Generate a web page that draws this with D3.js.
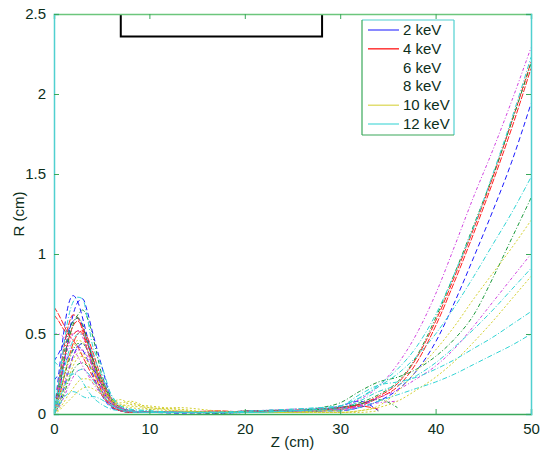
<!DOCTYPE html>
<html>
<head>
<meta charset="utf-8">
<script src="https://cdn.jsdelivr.net/npm/d3@7/dist/d3.min.js"></script>
<style>
  html, body { margin: 0; padding: 0; background: #fff; }
  svg { display: block; }
  text { font-family: "Liberation Sans", Arial, sans-serif; }
</style>
</head>
<body>
<svg id="chart" width="543" height="454"></svg>
<script>
// ---------- data ----------
const zGrid = [0, 0.5, 1, 1.5, 2, 2.5, 3, 3.5, 4, 5, 6, 7, 8, 10, 13, 17, 21, 25, 28, 30, 32, 34, 36, 38, 40, 42, 44, 46, 48, 50];
const energyLabels = ["2 keV", "4 keV", "6 keV", "8 keV", "10 keV", "12 keV"];
const xTicks = [0, 10, 20, 30, 40, 50];
const yTicks = [0, 0.5, 1, 1.5, 2, 2.5];
const apertureZ = [7, 28.1];
const apertureR = 2.36;
const N = null;

const r2keV = [
  [0.0,0.25,0.5,0.68,0.74,0.7,0.6,0.48,0.36,0.17,0.06,0.03,0.02,0.01, 0.01,0.01,0.015,0.02,0.02, 0.02,0.04,0.08,0.15,0.27,0.45,0.7,0.98,1.27,1.58,1.94],
  [0.0,0.12,0.3,0.48,0.62,0.7,0.72,0.64,0.52,0.3,0.1,0.04,0.02,0.01, 0.01,0.01,0.01,0.02,0.03, 0.05,0.08,0.02,N,N,N,N,N,N,N,N],
  [0.33,0.38,0.44,0.52,0.58,0.6,0.55,0.45,0.33,0.15,0.05,0.02,0.01,0.01, 0.01,0.005,0.01,0.01,0.02, 0.03,N,N,N,N,N,N,N,N,N,N],
  [0.21,0.25,0.3,0.36,0.4,0.42,0.4,0.34,0.26,0.12,0.04,0.02,0.01,0.01, 0.005,0.01,0.01,0.015,N, N,N,N,N,N,N,N,N,N,N,N],
  [0.0,0.06,0.15,0.26,0.36,0.42,0.44,0.4,0.33,0.18,0.07,0.03,0.02,0.01, 0.01,0.01,0.02,0.02,0.03, 0.04,0.06,0.1,N,N,N,N,N,N,N,N]
];
const r4keV = [
  [0.67,0.62,0.56,0.5,0.46,0.42,0.36,0.3,0.24,0.12,0.05,0.02,0.01,0.01, 0.01,0.01,0.01,0.02,0.025, 0.03,0.06,0.11,0.19,0.35,0.58,0.86,1.16,1.48,1.83,2.2],
  [0.0,0.2,0.4,0.55,0.62,0.6,0.52,0.4,0.3,0.14,0.05,0.02,0.01,0.01, 0.01,0.02,0.01,0.02,0.03, 0.03,0.05,0.1,0.17,0.32,0.55,0.83,1.13,1.45,1.79,2.16],
  [0.0,0.15,0.32,0.46,0.55,0.58,0.54,0.45,0.35,0.18,0.07,0.03,0.02,0.01, 0.01,0.01,0.02,0.02,0.03, 0.04,0.05,0.03,N,N,N,N,N,N,N,N],
  [0.62,0.58,0.53,0.5,0.5,0.52,0.5,0.44,0.36,0.2,0.08,0.03,0.02,0.01, 0.01,0.01,0.01,0.02,0.02, 0.03,N,N,N,N,N,N,N,N,N,N],
  [0.0,0.1,0.22,0.34,0.44,0.5,0.52,0.48,0.4,0.22,0.09,0.04,0.02,0.01, 0.01,0.01,0.02,0.025,0.03, 0.04,0.06,N,N,N,N,N,N,N,N,N]
];
const r6keV = [
  [0.0,0.18,0.36,0.5,0.58,0.6,0.56,0.46,0.36,0.2,0.1,0.04,0.02,0.01, 0.01,0.01,0.01,0.02,0.03, 0.04,0.07,0.12,0.2,0.36,0.6,0.88,1.18,1.49,1.83,2.19],
  [0.0,0.1,0.22,0.32,0.4,0.44,0.44,0.4,0.32,0.22,0.1,0.04,0.02,0.01, 0.01,0.01,0.02,0.02,0.04, 0.07,0.14,0.2,0.23,0.28,0.36,0.47,0.62,0.85,1.1,1.35],
  [0.0,0.05,0.12,0.2,0.27,0.31,0.32,0.3,0.28,0.2,0.09,0.03,0.02,0.01, 0.01,0.005,0.01,0.01,0.02, N,N,N,N,N,N,N,N,N,N,N],
  [0.0,0.14,0.3,0.45,0.56,0.62,0.65,0.6,0.5,0.25,0.09,0.03,0.02,0.01, 0.01,0.01,0.01,0.02,0.03, 0.04,0.06,0.09,0.04,N,N,N,N,N,N,N]
];
const r8keV = [
  [0.0,0.15,0.3,0.42,0.5,0.52,0.48,0.4,0.3,0.18,0.08,0.04,0.02,0.01, 0.01,0.01,0.02,0.03,0.035, 0.04,0.09,0.17,0.31,0.5,0.75,1.05,1.36,1.65,1.96,2.29],
  [0.0,0.08,0.18,0.28,0.36,0.4,0.4,0.36,0.3,0.22,0.1,0.04,0.02,0.01, 0.01,0.01,0.01,0.02,0.02, 0.02,0.05,0.1,0.15,0.22,0.3,0.41,0.55,0.7,0.85,1.0],
  [0.0,0.04,0.1,0.17,0.23,0.27,0.28,0.26,0.22,0.16,0.07,0.03,0.02,0.01, 0.01,0.01,0.01,0.02,0.02, 0.03,0.04,N,N,N,N,N,N,N,N,N],
  [0.5,0.5,0.48,0.44,0.4,0.36,0.3,0.25,0.2,0.12,0.06,0.03,0.02,0.01, 0.01,0.01,0.01,0.015,0.02, 0.03,0.05,0.07,0.08,N,N,N,N,N,N,N]
];
const r10keV = [
  [0.0,0.06,0.14,0.22,0.3,0.35,0.36,0.33,0.28,0.17,0.09,0.06,0.05,0.04, 0.02,0.01,0.01,0.01,0.01, 0.01,0.02,0.05,0.14,0.27,0.4,0.55,0.72,0.88,1.04,1.21],
  [0.0,0.03,0.07,0.12,0.16,0.2,0.22,0.22,0.2,0.14,0.08,0.09,0.06,0.05, 0.03,0.01,0.01,0.01,0.01, 0.01,0.02,0.04,0.08,0.15,0.23,0.33,0.45,0.58,0.72,0.86],
  [0.0,0.1,0.22,0.34,0.42,0.46,0.45,0.4,0.33,0.2,0.1,0.07,0.08,0.04, 0.03,0.01,0.01,0.01,0.02, 0.02,N,N,N,N,N,N,N,N,N,N],
  [0.0,0.02,0.05,0.08,0.11,0.14,0.16,0.17,0.16,0.12,0.07,0.05,0.04,0.03, 0.04,0.02,0.01,0.01,0.01, 0.01,0.01,0.02,N,N,N,N,N,N,N,N],
  [0.05,0.1,0.17,0.26,0.34,0.38,0.38,0.33,0.27,0.15,0.09,0.05,0.07,0.03, 0.02,0.01,0.01,0.01,0.02, 0.02,N,N,N,N,N,N,N,N,N,N]
];
const r12keV = [
  [0.0,0.2,0.42,0.6,0.7,0.73,0.72,0.6,0.44,0.3,0.12,0.05,0.03,0.02, 0.01,0.01,0.02,0.03,0.04, 0.05,0.1,0.18,0.28,0.42,0.62,0.88,1.17,1.5,1.85,2.23],
  [0.33,0.3,0.27,0.25,0.25,0.27,0.28,0.26,0.22,0.13,0.06,0.03,0.02,0.01, 0.01,0.01,0.01,0.02,0.03, 0.05,0.1,0.17,0.25,0.36,0.5,0.67,0.86,1.06,1.26,1.48],
  [0.0,0.08,0.16,0.22,0.25,0.24,0.2,0.15,0.11,0.06,0.03,0.02,0.01,0.01, 0.01,0.01,0.01,0.02,0.03, 0.03,0.08,0.14,0.18,0.24,0.32,0.42,0.53,0.65,0.78,0.91],
  [0.0,0.12,0.26,0.38,0.46,0.5,0.5,0.45,0.38,0.24,0.12,0.05,0.03,0.02, 0.01,0.01,0.02,0.03,0.04, 0.05,0.12,0.18,0.2,0.23,0.28,0.34,0.41,0.48,0.56,0.64],
  [0.0,0.05,0.1,0.13,0.14,0.13,0.11,0.1,0.11,0.09,0.05,0.03,0.02,0.01, 0.01,0.01,0.01,0.02,0.02, 0.02,0.04,0.08,0.12,0.16,0.2,0.25,0.31,0.37,0.43,0.5]
];
const seriesData = [r2keV, r4keV, r6keV, r8keV, r10keV, r12keV];

// ---------- styles ----------
const colors = ["#1a1aff", "#ff2020", "#1a9a3a", "#d040e0", "#d4d030", "#30d4d4"];
const dashes = ["5,3", "6,1.5", "4,2,1,2", "3,2,1,2", "2,2", "5,2,1,2"];
const legendShowLine = [true, true, false, false, true, true];
const textColor = "#0c2e1a";
const greenAxis = "#3aa85a";
const cyanAxis = "#50d0d0";
const fontSize = "15px";

// ---------- layout ----------
const svg = d3.select("#chart");
const x = d3.scaleLinear().domain([0, 50]).range([54, 531]);
const y = d3.scaleLinear().domain([0, 2.5]).range([414, 14]);

svg.append("defs").append("clipPath").attr("id", "plotclip")
  .append("rect").attr("x", x(0)).attr("y", y(2.5))
  .attr("width", x(50) - x(0)).attr("height", y(0) - y(2.5));

const line = d3.line()
  .defined(d => d[1] !== null)
  .x(d => x(d[0])).y(d => y(d[1]))
  .curve(d3.curveMonotoneX);

const gLines = svg.append("g").attr("clip-path", "url(#plotclip)");
seriesData.forEach((group, si) => {
  group.forEach(rs => {
    const pts = zGrid.map((z, i) => [z, rs[i]]);
    gLines.append("path")
      .attr("d", line(pts))
      .attr("fill", "none")
      .attr("stroke", colors[si])
      .attr("stroke-width", 1)
      .attr("stroke-dasharray", dashes[si]);
  });
});

// aperture bracket
svg.append("path")
  .attr("d", d3.line()([
    [x(apertureZ[0]), y(2.5)], [x(apertureZ[0]), y(apertureR)],
    [x(apertureZ[1]), y(apertureR)], [x(apertureZ[1]), y(2.5)]
  ]))
  .attr("fill", "none").attr("stroke", "#000").attr("stroke-width", 2);

// axes
const axBottom = svg.append("g").attr("transform", `translate(0,${y(0)})`)
  .call(d3.axisBottom(x).tickValues(xTicks).tickSize(-5).tickPadding(9).tickFormat(d3.format("d")));
const axTop = svg.append("g").attr("transform", `translate(0,${y(2.5)})`)
  .call(d3.axisTop(x).tickValues(xTicks).tickSize(-5).tickFormat(""));
const axLeft = svg.append("g").attr("transform", `translate(${x(0)},0)`)
  .call(d3.axisLeft(y).tickValues(yTicks).tickSize(-5).tickPadding(8).tickFormat(d => d));
const axRight = svg.append("g").attr("transform", `translate(${x(50)},0)`)
  .call(d3.axisRight(y).tickValues(yTicks).tickSize(-5).tickFormat(""));

[axBottom, axTop, axLeft, axRight].forEach(g => {
  g.selectAll("text").attr("fill", textColor).style("font-size", fontSize)
    .style("font-family", '"Liberation Sans", Arial, sans-serif');
});
axBottom.select(".domain").attr("stroke", greenAxis).attr("stroke-width", 1.5);
axTop.select(".domain").attr("stroke", "#6cc67c").attr("stroke-width", 1.5);
axLeft.select(".domain").attr("stroke", cyanAxis).attr("stroke-width", 1.5);
axRight.select(".domain").attr("stroke", cyanAxis).attr("stroke-width", 1.5);
[axBottom, axTop, axLeft, axRight].forEach(g => g.selectAll(".tick line").attr("stroke", greenAxis));

// axis titles
svg.append("text").attr("x", (x(0) + x(50)) / 2).attr("y", 447)
  .attr("text-anchor", "middle").attr("fill", textColor).style("font-size", fontSize)
  .text("Z (cm)");
svg.append("text").attr("transform", `translate(24,${(y(0) + y(2.5)) / 2}) rotate(-90)`)
  .attr("text-anchor", "middle").attr("fill", textColor).style("font-size", fontSize)
  .text("R (cm)");

// legend
const lg = svg.append("g");
const lx0 = 362, ly0 = 20, lw = 92, lh = 115;
lg.append("rect").attr("x", lx0).attr("y", ly0).attr("width", lw).attr("height", lh)
  .attr("fill", "#fff").attr("stroke", "none");
lg.append("line").attr("x1", lx0).attr("x2", lx0 + lw).attr("y1", ly0).attr("y2", ly0).attr("stroke", cyanAxis).attr("stroke-width", 1.2);
lg.append("line").attr("x1", lx0 + lw).attr("x2", lx0 + lw).attr("y1", ly0).attr("y2", ly0 + lh).attr("stroke", cyanAxis).attr("stroke-width", 1.2);
lg.append("line").attr("x1", lx0).attr("x2", lx0).attr("y1", ly0).attr("y2", ly0 + lh).attr("stroke", greenAxis).attr("stroke-width", 1.2);
lg.append("line").attr("x1", lx0).attr("x2", lx0 + lw).attr("y1", ly0 + lh).attr("y2", ly0 + lh).attr("stroke", greenAxis).attr("stroke-width", 1.2);
energyLabels.forEach((lab, i) => {
  const yy = 30 + i * 18.8;
  if (legendShowLine[i]) {
    lg.append("line").attr("x1", 368).attr("x2", 399).attr("y1", yy).attr("y2", yy)
      .attr("stroke", colors[i]).attr("stroke-width", i === 1 ? 1.6 : 1.2).attr("opacity", 0.85);
  }
  lg.append("text").attr("x", 403).attr("y", yy + 5).attr("fill", textColor)
    .style("font-size", fontSize).text(lab);
});
</script>
</body>
</html>
